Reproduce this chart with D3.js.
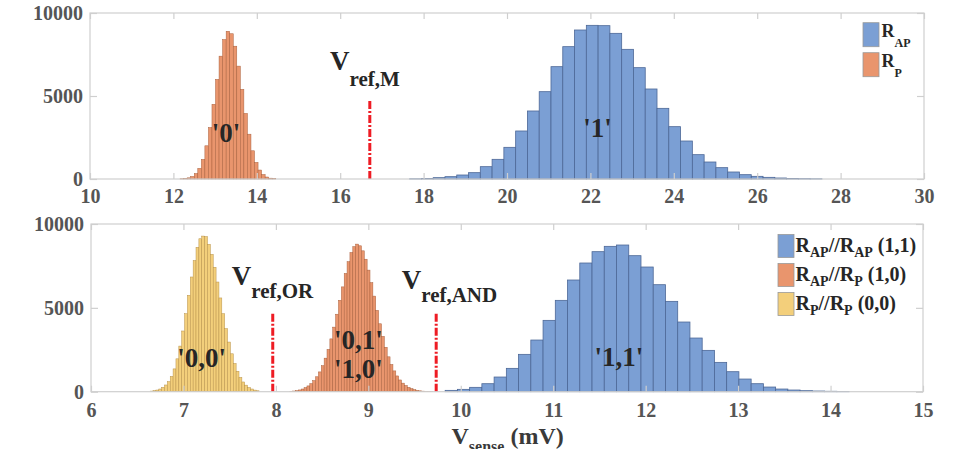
<!DOCTYPE html>
<html><head><meta charset="utf-8">
<script src="https://cdn.jsdelivr.net/npm/d3@7"></script>
<style>body{margin:0;background:#fff}svg{display:block}</style>
</head><body>
<script>
// ---------- data ----------
const topXTicks = [10,12,14,16,18,20,22,24,26,28,30];
const bottomXTicks = [6,7,8,9,10,11,12,13,14,15];
const yTicks = [0,5000,10000];

// top panel: R_P histogram (bin start, bin width, counts)
const topPStart = 12.16, topPWidth = 0.085;
const topPCounts = [15,30,70,150,330,640,1180,2000,3100,4500,6000,7400,8400,8900,8750,8000,6800,5400,3950,2700,1700,1000,540,270,120,50,20];
// top panel: R_AP histogram
const topAPStart = 17.665, topAPWidth = 0.2825;
const topAPCounts = [10,30,80,140,241,382,743,1185,1908,2892,4097,5261,6767,7972,8976,9257,9237,8775,7811,6707,5422,4257,3153,2289,1466,1024,683,422,261,161,100,60,35,20,10];

// bottom panel: RP//RP (0,0)
const botPPStart = 6.64, botPPWidth = 0.031;
const botPPCounts = [35,60,100,160,260,400,600,910,1360,1960,2720,3620,4650,5750,6840,7820,8610,9120,9280,9250,8790,8190,7420,6540,5590,4650,3760,2960,2260,1680,1220,850,580,390,250,160,95,55];
// bottom panel: RAP//RP (1,0)
const botAPPStart = 8.15, botAPPWidth = 0.031;
const botAPPCounts = [25,40,65,105,160,240,345,480,660,890,1180,1550,2000,2520,3150,3850,4620,5450,6250,7050,7750,8300,8650,8800,8700,8400,7900,7250,6500,5700,4850,4050,3300,2650,2080,1620,1240,940,700,510,370,260,180,120,80,52,33,20,12,8];
// bottom panel: RAP//RAP (1,1)
const botAPAPStart = 9.831, botAPAPWidth = 0.1324;
const botAPAPCounts = [80,140,260,477,875,1392,2227,3081,4254,5447,6660,7674,8350,8668,8747,8111,7435,6381,5387,4155,3200,2465,1749,1193,755,477,278,159,100,60,40,25,15];

// reference voltages
const vrefM = 16.71, vrefOR = 7.966, vrefAND = 9.734, vrefHeight = 4700;

// ---------- style ----------
const C = {
  blue:"#7b9fd4", blueEdge:"#4d6897",
  orange:"#e9956d", orangeEdge:"#a9603d",
  yellow:"#f3cf7b", yellowEdge:"#b8924a",
  red:"#ee1c24", grid:"#cfcfcf", tick:"#555", text:"#262626"
};
const FONT = '"Liberation Serif","Times New Roman",serif';

const svg = d3.select("body").append("svg")
  .attr("width",956).attr("height",449)
  .style("font-family",FONT).style("font-weight","bold");

function panel(xDomain, xRange, yRange, xTicks, labelPad){
  const x = d3.scaleLinear().domain(xDomain).range(xRange);
  const y = d3.scaleLinear().domain([0,10000]).range(yRange);
  const g = svg.append("g");
  return {x,y,g,xTicks,labelPad};
}

function hist(p, start, width, counts, fill, edge, sw){
  p.g.append("g").selectAll("rect").data(counts).join("rect")
    .attr("x",(d,i)=>p.x(start+i*width))
    .attr("width",(d,i)=>p.x(start+(i+1)*width)-p.x(start+i*width))
    .attr("y",d=>p.y(d))
    .attr("height",d=>p.y(0)-p.y(d))
    .attr("fill",fill).attr("stroke",edge).attr("stroke-width",sw);
}

function axes(p){
  const [x0,x1] = p.x.range(), [y0,y1] = p.y.range();
  const g = p.g.append("g");
  g.append("rect").attr("x",x0).attr("y",y1).attr("width",x1-x0).attr("height",y0-y1)
    .attr("fill","none").attr("stroke",C.grid).attr("stroke-width",1.2);
  const style = (sel)=>{
    sel.select(".domain").remove();
    sel.selectAll(".tick line").attr("stroke",C.grid).attr("stroke-width",1.2);
    sel.selectAll(".tick text").attr("fill",C.tick).style("font-size","20px")
      .style("font-family",FONT).style("font-weight","bold");
  };
  g.append("g").attr("transform",`translate(0,${y0})`)
    .call(d3.axisBottom(p.x).tickValues(p.xTicks).tickSize(-6).tickPadding(p.labelPad).tickFormat(d3.format("d")))
    .call(style);
  g.append("g").attr("transform",`translate(0,${y1})`)
    .call(d3.axisTop(p.x).tickValues(p.xTicks).tickSize(-6).tickFormat(""))
    .call(style);
  g.append("g").attr("transform",`translate(${x0},0)`)
    .call(d3.axisLeft(p.y).tickValues(yTicks).tickSize(-7).tickPadding(7).tickFormat(d3.format("d")))
    .call(style);
  g.append("g").attr("transform",`translate(${x1},0)`)
    .call(d3.axisRight(p.y).tickValues(yTicks).tickSize(-7).tickFormat(""))
    .call(style);
}

function vline(p, v){
  p.g.append("line").attr("x1",p.x(v)).attr("x2",p.x(v))
    .attr("y1",p.y(0)).attr("y2",p.y(vrefHeight))
    .attr("stroke",C.red).attr("stroke-width",3).attr("stroke-dasharray","8,2,2,2");
}

function label(x, y, str, size){
  svg.append("text").attr("x",x).attr("y",y).attr("text-anchor","middle")
    .attr("fill",C.text).style("font-size",size+"px").text(str);
}

function richText(x, y, parts, size, subSize, subDy, anchor){
  const t = svg.append("text").attr("x",x).attr("y",y).attr("fill",C.text)
    .attr("text-anchor",anchor||"start").style("font-size",size+"px");
  let inSub = false;
  parts.forEach(([s,sub])=>{
    const ts = t.append("tspan").text(s);
    if(sub && !inSub){ ts.attr("dy",subDy).style("font-size",subSize+"px"); inSub=true; }
    else if(sub){ ts.style("font-size",subSize+"px"); }
    else if(!sub && inSub){ ts.attr("dy",-subDy); inSub=false; }
  });
  return t;
}

// ---------- top panel ----------
const pTop = panel([10,30],[90,924],[179,13],topXTicks,10);
hist(pTop, topAPStart, topAPWidth, topAPCounts, C.blue, C.blueEdge, 0.8);
hist(pTop, topPStart, topPWidth, topPCounts, C.orange, C.orangeEdge, 0.5);
vline(pTop, vrefM);
axes(pTop);

// ---------- bottom panel ----------
const pBot = panel([6,15],[91,923],[391.7,224],bottomXTicks,11);
hist(pBot, botPPStart, botPPWidth, botPPCounts, C.yellow, C.yellowEdge, 0.5);
hist(pBot, botAPPStart, botAPPWidth, botAPPCounts, C.orange, C.orangeEdge, 0.5);
hist(pBot, botAPAPStart, botAPAPWidth, botAPAPCounts, C.blue, C.blueEdge, 0.8);
vline(pBot, vrefOR);
vline(pBot, vrefAND);
axes(pBot);

// ---------- annotations ----------
label(226, 142, "'0'", 27);
label(597.5, 137, "'1'", 27);
label(201.7, 367, "'0,0'", 27);
label(358.3, 348.5, "'0,1'", 27);
label(358.3, 378, "'1,0'", 27);
label(619, 366, "'1,1'", 27);

richText(330, 70, [["V"],["ref,M",true]], 27, 21, 16);
richText(231.7, 285, [["V"],["ref,OR",true]], 27, 21, 13);
richText(401.7, 289, [["V"],["ref,AND",true]], 27, 21, 13);

// x-axis title
richText(451.5, 443.5, [["V"],["sense",true],[" (mV)"]], 24, 16, 8).attr("fill","#3a3a3a");

// ---------- legends ----------
const topLeg = [["AP",C.blue],["P",C.orange]];
topLeg.forEach(([s,c],i)=>{
  const cy = 34.7 + i*30;
  svg.append("rect").attr("x",863).attr("y",cy-12).attr("width",16).attr("height",24)
    .attr("fill",c).attr("stroke","#9a9a9a").attr("stroke-width",0.8);
  richText(881.5, cy+2.6, [["R"],[s,true]], 18, 12, 9.4);
});

const botLeg = [
  [[["R"],["AP",true],["//R"],["AP",true],[" (1,1)"]], C.blue],
  [[["R"],["AP",true],["//R"],["P",true],[" (1,0)"]], C.orange],
  [[["R"],["P",true],["//R"],["P",true],[" (0,0)"]], C.yellow]
];
botLeg.forEach(([parts,c],i)=>{
  const cy = 246 + i*29;
  svg.append("rect").attr("x",778).attr("y",cy-11.5).attr("width",16).attr("height",23)
    .attr("fill",c).attr("stroke","#9a9a9a").attr("stroke-width",0.8);
  richText(795.5, cy+5.7, parts, 20, 14, 5.6);
});
</script>
</body></html>
